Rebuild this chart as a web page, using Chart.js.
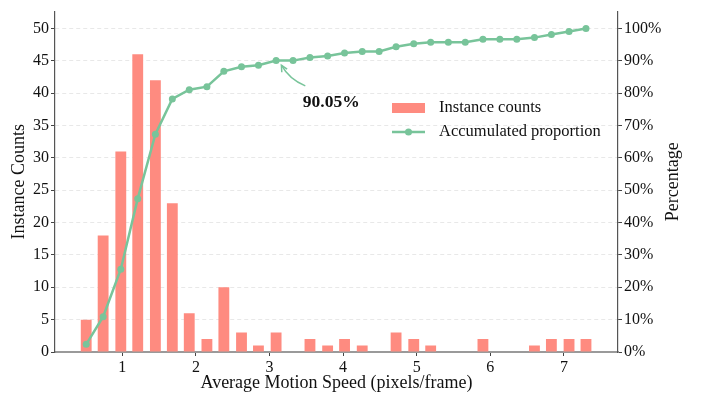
<!DOCTYPE html>
<html>
<head>
<meta charset="utf-8">
<script src="https://cdn.jsdelivr.net/npm/chart.js@4/dist/chart.umd.min.js"></script>
<style>
  html, body { margin: 0; padding: 0; background: white; }
  canvas { display: block; }
</style>
</head>
<body>
<canvas id="myChart" width="709" height="397"></canvas>
<script>
// bin centres of average motion speed (pixels/frame)
const speeds = [0.51, 0.74, 0.98, 1.21, 1.45, 1.68, 1.91, 2.15, 2.38, 2.62,
                2.85, 3.09, 3.32, 3.55, 3.79, 4.02, 4.26, 4.49, 4.72, 4.96,
                5.19, 5.43, 5.66, 5.90, 6.13, 6.36, 6.60, 6.83, 7.07, 7.30];
const counts = [5, 18, 31, 46, 42, 23, 6, 2, 10, 3,
                1, 3, 0, 2, 1, 2, 1, 0, 3, 2,
                1, 0, 0, 2, 0, 0, 1, 2, 2, 2];
const accumulated = [2.37, 10.90, 25.59, 47.39, 67.30, 78.20, 81.04, 81.99, 86.73, 88.15,
                     88.63, 90.05, 90.05, 91.00, 91.47, 92.42, 92.89, 92.89, 94.31, 95.26,
                     95.73, 95.73, 95.73, 96.68, 96.68, 96.68, 97.16, 98.10, 99.05, 100];
const xTicks = [1, 2, 3, 4, 5, 6, 7];
const countTicks = [0, 5, 10, 15, 20, 25, 30, 35, 40, 45, 50];
const percentTicks = [0, 10, 20, 30, 40, 50, 60, 70, 80, 90, 100];

// annotation: which point, and where the label sits (x in speed, y in %)
const noteIndex = 11;
const noteText = "90.05%";
const noteAt = [3.84, 77];

const barColor = "#FE8B80";
const lineColor = "#78C49A";
const serif = "'Liberation Serif', 'Times New Roman', serif";

const extras = {
  id: "extras",
  afterDraw(chart) {
    const ctx = chart.ctx;
    const x = chart.scales.x;
    const y1 = chart.scales.y1;

    // right axis title, reading bottom to top like the left one
    ctx.save();
    ctx.fillStyle = "#111";
    ctx.font = "18px " + serif;
    ctx.textAlign = "center";
    ctx.textBaseline = "middle";
    ctx.translate(673, (chart.chartArea.top + chart.chartArea.bottom) / 2);
    ctx.rotate(-Math.PI / 2);
    ctx.fillText("Percentage", 0, 0);
    ctx.restore();

    // legend
    ctx.save();
    ctx.fillStyle = barColor;
    ctx.fillRect(392, 103, 33, 10);
    ctx.strokeStyle = lineColor;
    ctx.lineWidth = 2.5;
    ctx.beginPath();
    ctx.moveTo(392, 132);
    ctx.lineTo(425, 132);
    ctx.stroke();
    ctx.fillStyle = lineColor;
    ctx.beginPath();
    ctx.arc(408.5, 132, 3.5, 0, Math.PI * 2);
    ctx.fill();
    ctx.fillStyle = "#111";
    ctx.font = "16.5px " + serif;
    ctx.textAlign = "left";
    ctx.textBaseline = "middle";
    ctx.fillText("Instance counts", 439, 108);
    ctx.fillText("Accumulated proportion", 439, 132);
    ctx.restore();

    // annotation with curved arrow
    const px = x.getPixelForValue(speeds[noteIndex]);
    const py = y1.getPixelForValue(accumulated[noteIndex]);
    const tx = x.getPixelForValue(noteAt[0]);
    const ty = y1.getPixelForValue(noteAt[1]);
    ctx.save();
    ctx.fillStyle = "#111";
    ctx.font = "bold 17.5px " + serif;
    ctx.textAlign = "center";
    ctx.textBaseline = "middle";
    ctx.fillText(noteText, tx, ty);

    const sx = tx - 26, sy = ty - 17;
    const ang = Math.atan2(sy - py, sx - px);
    const ex = px + Math.cos(ang) * 7, ey = py + Math.sin(ang) * 7;
    const cx = (sx + ex) / 2 - 4, cy = (sy + ey) / 2 + 4;
    ctx.strokeStyle = lineColor;
    ctx.lineWidth = 1.5;
    ctx.beginPath();
    ctx.moveTo(sx, sy);
    ctx.quadraticCurveTo(cx, cy, ex, ey);
    ctx.stroke();
    const headAng = Math.atan2(ey - cy, ex - cx);
    ctx.beginPath();
    ctx.moveTo(ex - 7 * Math.cos(headAng - 0.45), ey - 7 * Math.sin(headAng - 0.45));
    ctx.lineTo(ex, ey);
    ctx.lineTo(ex - 7 * Math.cos(headAng + 0.45), ey - 7 * Math.sin(headAng + 0.45));
    ctx.stroke();
    ctx.restore();
  }
};

const tickFont = { family: serif, size: 16 };
const titleFont = { family: serif, size: 18, lineHeight: 1 };

const config = {
  type: "bar",
  data: {
    datasets: [
      {
        type: "line",
        label: "Accumulated proportion",
        data: speeds.map((s, i) => ({ x: s, y: accumulated[i] })),
        yAxisID: "y1",
        borderColor: lineColor,
        backgroundColor: lineColor,
        borderWidth: 2.5,
        pointRadius: 3.5,
        pointBorderWidth: 0,
        pointBackgroundColor: lineColor,
        tension: 0,
        order: 0
      },
      {
        type: "bar",
        label: "Instance counts",
        data: speeds.map((s, i) => ({ x: s, y: counts[i] })),
        yAxisID: "y",
        backgroundColor: barColor,
        borderWidth: 0,
        barPercentage: 0.8,
        categoryPercentage: 0.8,
        order: 1
      }
    ]
  },
  options: {
    responsive: false,
    animation: false,
    devicePixelRatio: 1,
    layout: { padding: { top: 8, left: 0, right: 0, bottom: 0 } },
    plugins: { legend: { display: false }, tooltip: { enabled: false } },
    scales: {
      x: {
        type: "linear",
        min: 0.086,
        max: 7.735,
        offset: false,
        afterBuildTicks: s => { s.ticks = xTicks.map(v => ({ value: v })); },
        afterFit: s => { s.height = 45; },
        ticks: { font: tickFont, color: "#111", padding: 2, maxRotation: 0 },
        grid: { drawOnChartArea: false, offset: false, tickLength: 4, tickColor: "#444", tickWidth: 1 },
        border: { color: "#9a9a9a", width: 2 },
        title: { display: true, text: "Average Motion Speed (pixels/frame)", font: titleFont, color: "#111", padding: { top: 0, bottom: 4.7 } }
      },
      y: {
        position: "left",
        min: 0,
        max: 52.6,
        afterBuildTicks: s => { s.ticks = countTicks.map(v => ({ value: v })); },
        afterFit: s => { s.width = 55; },
        ticks: { font: tickFont, color: "#111", padding: 2 },
        grid: { color: "#e2e2e2", lineWidth: 0.8, tickLength: 4, tickColor: "#444", tickWidth: 1, tickBorderDash: [] },
        border: { color: "#555", width: 1.2, dash: [4, 3] },
        title: { display: true, text: "Instance Counts", font: titleFont, color: "#111", padding: { top: 10, bottom: 0 } }
      },
      y1: {
        position: "right",
        min: 0,
        max: 105.2,
        afterBuildTicks: s => { s.ticks = percentTicks.map(v => ({ value: v })); },
        afterFit: s => { s.width = 91; },
        ticks: { font: tickFont, color: "#111", padding: 2, callback: v => v + "%" },
        grid: { drawOnChartArea: false, tickLength: 4, tickColor: "#444", tickWidth: 1 },
        border: { color: "#555", width: 1.2 }
      }
    }
  },
  plugins: [extras]
};

const myChart = new Chart(document.getElementById("myChart"), config);
</script>
</body>
</html>
